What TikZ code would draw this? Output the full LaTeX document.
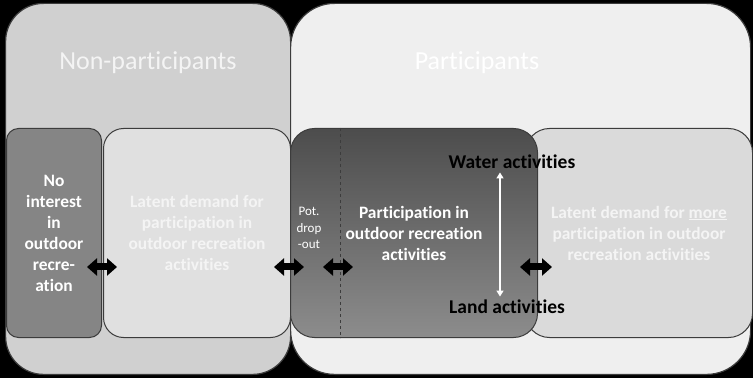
\documentclass[tikz,border=0pt]{standalone}
\usepackage{fontspec}
\setmainfont{Carlito}[Ligatures=NoCommon,RawFeature={-liga;-clig;-calt}]
\usetikzlibrary{positioning,arrows.meta,calc}
\definecolor{boxline}{HTML}{3C3C3C}
\definecolor{npfill}{HTML}{D0D0D0}
\definecolor{pfill}{HTML}{EFEFEF}
\definecolor{nifill}{HTML}{858585}
\definecolor{ldfill}{HTML}{E0E0E0}
\definecolor{lmfill}{HTML}{DADADA}
\definecolor{palefont}{HTML}{F4F4F4}
\tikzset{
bigbox/.style={
draw=boxline,
line width=1.2pt,
rounded corners=38pt,
anchor=south west,
inner sep=0pt
},
innerbox/.style={
draw=boxline,
line width=1pt,
anchor=south west,
align=center,
inner sep=0pt,
font=\bfseries\fontsize{17.4}{21}\selectfont
},
title/.style={
font=\fontsize{26}{30}\selectfont,
text=palefont
},
dblarrow/.style={
{Triangle[length=10pt,width=17pt]}-{Triangle[length=10pt,width=17pt]},
line width=7pt,
black
},
thinarrow/.style={
{Triangle[length=6pt,width=7pt]}-{Triangle[length=6pt,width=7pt]},
line width=2.6pt,
white
}
}
\begin{document}
\begin{tikzpicture}[x=1pt,y=1pt]
\fill[black] (0,0) rectangle (753,378);
\useasboundingbox (0,0) rectangle (753,378);

% outer groups
\node[bigbox,fill=npfill,minimum width=285pt,minimum height=371pt] (np) at (5,3) {};
\node[bigbox,fill=pfill,rounded corners=44pt,minimum width=460pt,minimum height=371pt] (p) at (290,3) {};
\node[title] (nptitle) at (148,315) {Non-participants};
\node[title,text=white] (ptitle) at (477,315) {Participants};

% inner boxes
\node[innerbox,fill=nifill,rounded corners=12pt,minimum width=95pt,minimum height=209pt,text=white] (ni) at (6,40)
  {No\\interest\\in\\outdoor\\recre-\\ation};
\node[innerbox,fill=ldfill,rounded corners=20pt,minimum width=187pt,minimum height=209pt,text=palefont] (ld) at (103,40)
  {Latent demand for\\participation in\\outdoor recreation\\activities};
\node[innerbox,fill=lmfill,rounded corners=24pt,minimum width=227pt,minimum height=209pt,text=palefont] (lm) at (525,40)
  {Latent demand for \underline{more}\\participation in outdoor\\recreation activities};
\node[innerbox,top color=black!70,bottom color=black!45,rounded corners=24pt,minimum width=247pt,minimum height=209pt,text=white] (pa) at (290,40)
  {Participation in\\outdoor recreation\\activities};

\coordinate (dx) at (340,0);
\draw[boxline,dashed,line width=0.8pt] (pa.north -| dx) -- (pa.south -| dx);

\node[font=\fontsize{13}{16.5}\selectfont,text=white,align=center] (pot) at (309,150) {Pot.\\drop\\-out};

\node[font=\bfseries\fontsize{19.5}{23}\selectfont] (water) at (512,216) {Water activities};
\node[font=\bfseries\fontsize{19.5}{23}\selectfont] (land) at (507,71) {Land activities};
\coordinate (wx) at (500,0);
\draw[thinarrow] (water.south -| wx) -- (land.north -| wx);

% exchange arrows
\coordinate (ay) at (0,111);
\draw[dblarrow] ([xshift=-15pt]ni.east |- ay) -- ([xshift=15pt]ni.east |- ay);
\draw[dblarrow] ([xshift=-17pt]ld.east |- ay) -- ([xshift=13pt]ld.east |- ay);
\draw[dblarrow] ([xshift=-17pt]dx |- ay) -- ([xshift=13pt]dx |- ay);
\draw[dblarrow] ([xshift=-5pt]lm.west |- ay) -- ([xshift=27pt]lm.west |- ay);
\end{tikzpicture}
\end{document}
